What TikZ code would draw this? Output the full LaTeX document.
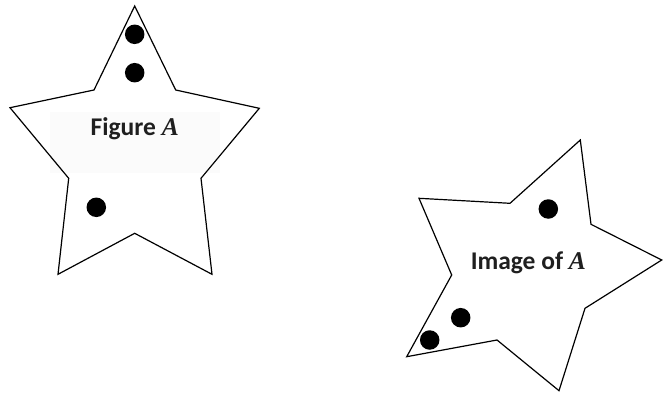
\documentclass[tikz,border=0pt]{standalone}
\usepackage{fontspec}
\setmainfont{Carlito}
\newfontfamily\mathAfont{Liberation Serif}
\tikzset{
  starline/.style={draw=black, line width=1.2pt, line join=miter},
  dot/.style={circle, fill=black, inner sep=0pt, minimum size=19.5pt},
  lbl/.style={font=\fontsize{25.5}{30}\selectfont\bfseries, inner sep=0pt, text=black!88}
}
\begin{document}
\begin{tikzpicture}[x=1pt,y=-1pt]
\useasboundingbox (0,0) rectangle (663,393);
% Figure A
\fill[white!98.5!black] (50,112) rectangle (220,173);
\draw[starline] (134.7,6) -- (175.7,90) -- (259.3,108.3) -- (201,178.3) -- (212,274.3)
  -- (134.7,233.3) -- (58,274.3) -- (68.7,178.3) -- (10,107.7) -- (94,90) -- cycle;
\node[dot] (a1) at (134.7,34.3) {};
\node[dot] (a2) at (134.7,72.7) {};
\node[dot] (a3) at (96.3,207.3) {};
\node[lbl] (la) at (134.7,128.5) {Figure {\mathAfont\itshape A}};
% Image of A
\draw[starline] (580.3,140) -- (591,224.3) -- (661.7,260) -- (585,308.3) -- (559,390.7)
  -- (497,340) -- (406.7,356.7) -- (451.7,275) -- (419,198.3) -- (510,203.3) -- cycle;
\node[dot] (b1) at (548.3,209) {};
\node[dot] (b2) at (460.7,317.7) {};
\node[dot] (b3) at (429.7,340) {};
\node[lbl] (lb) at (528.3,262.5) {Image of {\mathAfont\itshape A}};
\end{tikzpicture}
\end{document}
